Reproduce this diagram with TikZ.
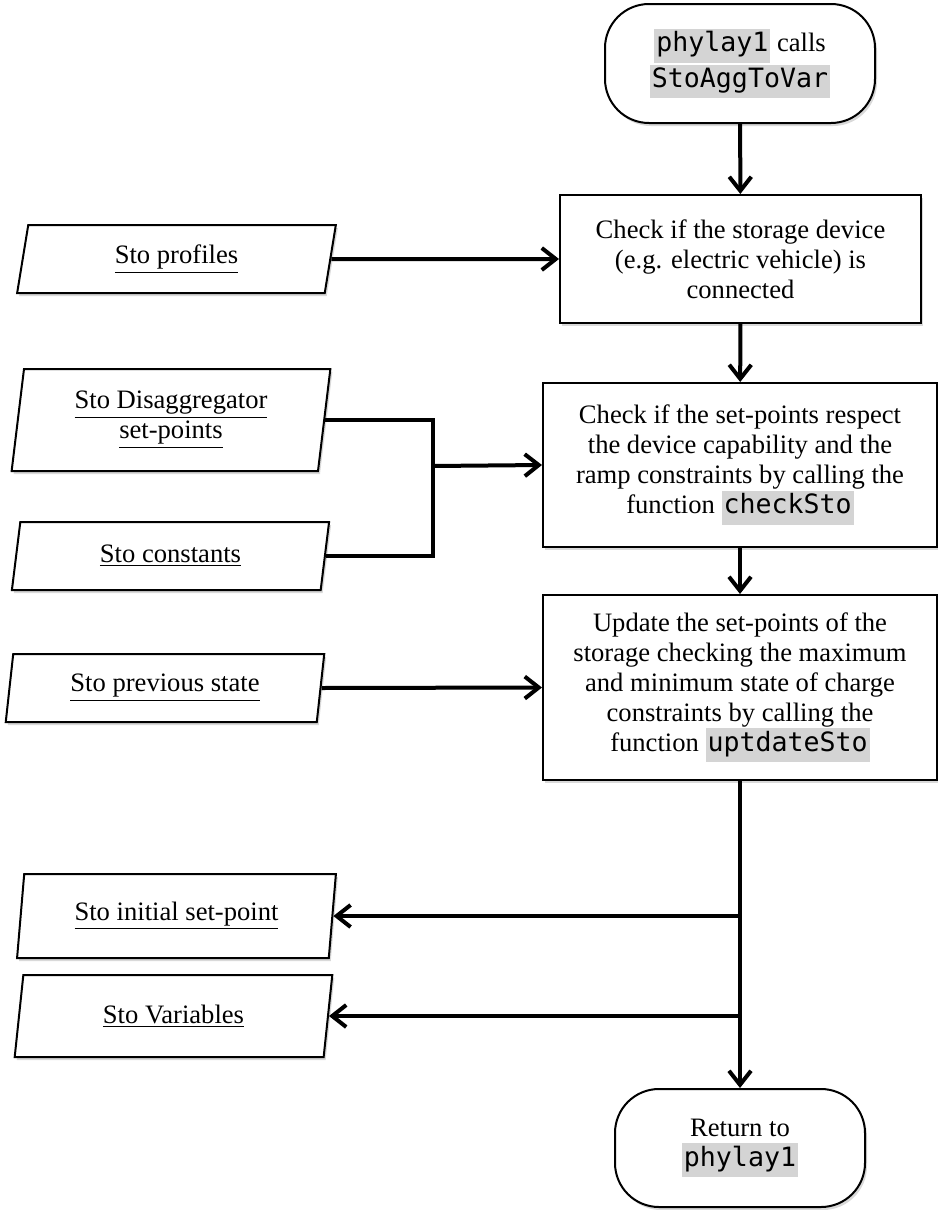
\documentclass[tikz,border=0pt]{standalone}
\usepackage{fontspec}
\setmainfont{Liberation Serif}
\setmonofont{DejaVu Sans Mono}
\usepackage{xcolor}
\usetikzlibrary{arrows.meta,shapes.geometric,shadows}
\definecolor{codegray}{gray}{0.83}
\newcommand{\fn}[1]{{\setlength{\fboxsep}{1pt}\colorbox{codegray}{\strut\ttfamily #1}}}

\begin{document}
\begin{tikzpicture}[
    x=0.5pt, y=-0.5pt,
    font=\fontsize{13.3}{15}\selectfont,
    % shapes of the flowchart
    dshadow/.style={drop shadow={opacity=0.3, shadow xshift=1pt, shadow yshift=-1.5pt}},
    term/.style={draw, line width=1pt, rounded corners=22pt, fill=white, dshadow, align=center},
    proc/.style={draw, line width=1pt, fill=white, dshadow, align=center, inner sep=2pt},
    data/.style={trapezium, trapezium left angle=83, trapezium right angle=97,
                 trapezium stretches=true, draw, line width=1pt, fill=white, dshadow,
                 align=center, minimum width=159.5pt},
    flow/.style={-{Straight Barb[length=7pt,width=11pt]}, line width=2pt},
    link/.style={line width=2pt},
]
\useasboundingbox (0,0) rectangle (937,1210);

% -------------------------
% Main column
% -------------------------
\node[term, minimum width=135pt, minimum height=59.5pt] (start) at (740,63.5)
  {\fn{phylay1} calls\\\fn{StoAggToVar}};
\node[proc, minimum width=180.5pt, minimum height=64pt] (check) at (740.5,259)
  {Check if the storage device\\(e.g. electric vehicle) is\\connected};
\node[proc, minimum width=197pt, minimum height=82pt] (ramp) at (740,465)
  {Check if the set-points respect\\the device capability and the\\ramp constraints by calling the\\function \fn{checkSto}};
\node[proc, minimum width=197pt, minimum height=92.5pt] (update) at (740,687.5)
  {Update the set-points of the\\storage checking the maximum\\and minimum state of charge\\constraints by calling the\\function \fn{uptdateSto}};
\node[term, minimum width=125pt, minimum height=59pt] (ret) at (740,1148)
  {Return to\\\fn{phylay1}};

% -------------------------
% Data inputs / outputs
% -------------------------
\node[data, minimum height=34pt] (profiles) at (176.5,259) {\underline{Sto profiles}};
\node[data, minimum height=51pt] (disagg) at (171,420)
  {\underline{Sto Disaggregator}\\\underline{set-points}};
\node[data, minimum height=34pt] (consts) at (170.5,556) {\underline{Sto constants}};
\node[data, minimum height=34pt] (prev) at (165,688) {\underline{Sto previous state}};
\node[data, minimum height=42pt] (initsp) at (176.5,916) {\underline{Sto initial set-point}};
\node[data, minimum height=41pt] (vars) at (173.5,1016) {\underline{Sto Variables}};

\coordinate (merge) at (433,466);

% -------------------------
% Connectors
% -------------------------
\draw[flow] (start) -- (check);
\draw[flow] (check) -- (ramp);
\draw[flow] (ramp) -- (update);
\draw[flow] (update) -- (ret);

\draw[flow] (profiles.east) -- (check.west);
\draw[link] (disagg.east) -| (merge) |- (consts.east);
\draw[flow] (merge) -- (ramp.west);
\draw[flow] (prev.east) -- (update.west);

\draw[flow] (update.south |- initsp.east) -- (initsp.east);
\draw[flow] (update.south |- vars.east) -- (vars.east);

\end{tikzpicture}
\end{document}
